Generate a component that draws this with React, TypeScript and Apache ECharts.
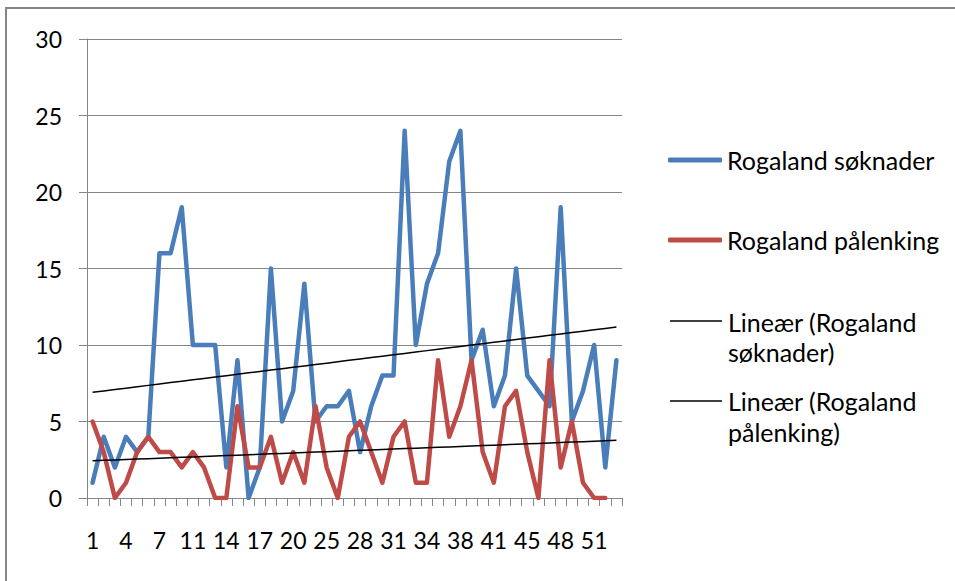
import React, { useEffect, useRef } from "react";
import * as echarts from "echarts";

// Week numbers on the category axis (every third one is labelled)
const weeks: string[] = [
  "1", "2", "3", "4", "5", "6", "7", "8", "9", "11", "12", "13", "14", "15", "16", "17",
  "18", "19", "20", "21", "22", "25", "26", "27", "28", "29", "30", "31", "32", "33", "34",
  "35", "36", "38", "39", "40", "41", "42", "43", "45", "46", "47", "48", "49", "50", "51",
  "52", "53",
];

const soknader: number[] = [
  1, 4, 2, 4, 3, 4, 16, 16, 19, 10, 10, 10, 2, 9, 0, 2,
  15, 5, 7, 14, 5, 6, 6, 7, 3, 6, 8, 8, 24, 10, 14, 16,
  22, 24, 9, 11, 6, 8, 15, 8, 7, 6, 19, 5, 7, 10, 2, 9,
];

const palenking: (number | null)[] = [
  5, 3, 0, 1, 3, 4, 3, 3, 2, 3, 2, 0, 0, 6, 2, 2,
  4, 1, 3, 1, 6, 2, 0, 4, 5, 3, 1, 4, 5, 1, 1, 9,
  4, 6, 9, 3, 1, 6, 7, 3, 0, 9, 2, 5, 1, 0, 0, null,
];

const seriesNames = [
  "Rogaland søknader",
  "Rogaland pålenking",
  "Lineær (Rogaland søknader)",
  "Lineær (Rogaland pålenking)",
];

function linearTrend(vals: (number | null)[]): number[] {
  let n = 0, sx = 0, sy = 0, sxx = 0, sxy = 0;
  vals.forEach((v, i) => {
    if (v == null) return;
    const x = i + 1;
    n++; sx += x; sy += v; sxx += x * x; sxy += x * v;
  });
  const slope = (n * sxy - sx * sy) / (n * sxx - sx * sx);
  const intercept = (sy - slope * sx) / n;
  return weeks.map((_, i) => intercept + slope * (i + 1));
}

const FONT = "Lato";
const GRAY = "#868686";

export default function App() {
  const ref = useRef<HTMLDivElement>(null);
  useEffect(() => {
    if (!ref.current) return;
    const chart = echarts.init(ref.current, undefined, { renderer: "svg" });
    const legendText = { fontFamily: FONT, fontSize: 25, color: "#000", lineHeight: 28 };
    chart.setOption({
      animation: false,
      backgroundColor: "#fff",
      grid: { left: 87, top: 39, width: 535, height: 459, containLabel: false },
      xAxis: {
        type: "category",
        data: weeks,
        boundaryGap: true,
        axisLine: { lineStyle: { color: GRAY, width: 1 } },
        axisTick: { show: true, interval: 0, length: 8, lineStyle: { color: GRAY } },
        axisLabel: { interval: 2, margin: 30, fontFamily: FONT, fontSize: 23, color: "#000" },
        splitLine: { show: false },
      },
      yAxis: {
        type: "value",
        min: 0,
        max: 30,
        interval: 5,
        axisLine: { show: true, lineStyle: { color: GRAY, width: 1 } },
        axisTick: { show: true, length: 8, lineStyle: { color: GRAY } },
        axisLabel: { margin: 25, fontFamily: FONT, fontSize: 23, color: "#000" },
        splitLine: { show: true, lineStyle: { color: GRAY, width: 1 } },
      },
      legend: [
        {
          data: [seriesNames[0]], left: 668, top: 146, padding: 0, icon: "roundRect",
          itemWidth: 54, itemHeight: 5, selectedMode: false, textStyle: legendText,
        },
        {
          data: [seriesNames[1]], left: 668, top: 226, padding: 0, icon: "roundRect",
          itemWidth: 54, itemHeight: 5, selectedMode: false, textStyle: legendText,
        },
      ],
      graphic: [
        {
          type: "rect", silent: true, z: -1,
          shape: { x: 6, y: 8, width: 960, height: 590 },
          style: { fill: "none", stroke: GRAY, lineWidth: 2 },
        },
        {
          type: "line", silent: true,
          shape: { x1: 670, y1: 321, x2: 722, y2: 321 },
          style: { stroke: "#000", lineWidth: 1.5 },
        },
        {
          type: "text", silent: true, x: 728, y: 307,
          style: {
            text: "Lineær (Rogaland\nsøknader)", font: `25px ${FONT}`, fill: "#000",
            lineHeight: 30, textVerticalAlign: "top",
          },
        },
        {
          type: "line", silent: true,
          shape: { x1: 670, y1: 401, x2: 722, y2: 401 },
          style: { stroke: "#000", lineWidth: 1.5 },
        },
        {
          type: "text", silent: true, x: 728, y: 385,
          style: {
            text: "Lineær (Rogaland\npålenking)", font: `25px ${FONT}`, fill: "#000",
            lineHeight: 31, textVerticalAlign: "top",
          },
        },
      ],
      series: [
        {
          name: seriesNames[0], type: "line", data: soknader, showSymbol: false, symbol: "none",
          itemStyle: { color: "#4A7EBB" },
          lineStyle: { color: "#4A7EBB", width: 4.5, join: "round", cap: "round" },
          z: 2,
        },
        {
          name: seriesNames[1], type: "line", data: palenking, showSymbol: false, symbol: "none",
          itemStyle: { color: "#BE4B48" },
          lineStyle: { color: "#BE4B48", width: 4.5, join: "round", cap: "round" },
          z: 3,
        },
        {
          name: seriesNames[2], type: "line", data: linearTrend(soknader), showSymbol: false,
          symbol: "none", itemStyle: { color: "#000" },
          lineStyle: { color: "#000", width: 1.5 }, z: 4,
        },
        {
          name: seriesNames[3], type: "line", data: linearTrend(palenking), showSymbol: false,
          symbol: "none", itemStyle: { color: "#000" },
          lineStyle: { color: "#000", width: 1.5 }, z: 4,
        },
      ],
    });
    return () => chart.dispose();
  }, []);
  return (
    <div
      ref={ref}
      style={{ position: "fixed", left: 0, top: 0, width: "955px", height: "581px" }}
    />
  );
}
